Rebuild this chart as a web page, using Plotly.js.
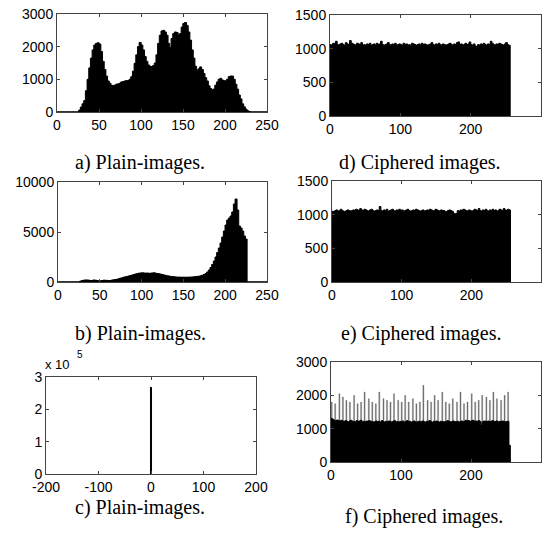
<!DOCTYPE html>
<html><head><meta charset="utf-8">
<script src="https://cdn.plot.ly/plotly-3.0.1.min.js"></script>
<style>html,body{margin:0;padding:0;background:#fff;}#chart{width:551px;height:533px;}</style>
</head><body><div id="chart"></div>
<script>
// ---------- DATA ----------
// Plain-image histograms: bin width 2 (bin starts 0,2,...,254)
const binStep = 2;
const plainA = [
 0,0,0,0,0,0,0,0,0,0,0,0,0,60,150,250,
 350,650,1000,1350,1650,1900,2050,2100,2120,2080,1850,1550,1300,1100,950,880,
 820,800,820,850,860,880,920,930,950,960,960,1000,1080,1250,1490,1750,
 2000,2130,2050,1900,1700,1550,1440,1400,1390,1420,1500,1750,2100,2350,2480,2500,
 2450,2350,2100,1980,2250,2400,2450,2430,2350,2400,2600,2710,2740,2650,2450,2200,
 1900,1650,1400,1280,1320,1380,1300,1180,1050,950,800,720,680,700,820,920,
 1000,1030,980,960,950,1000,1080,1100,1100,1000,850,700,520,400,250,160,
 90,40,10,0,0,0,0,0,0,0,0,0,0,0,0,0
];
const plainB = [
 0,0,0,0,0,0,0,0,0,0,0,0,0,80,150,180,
 200,200,180,150,160,200,180,150,120,120,150,180,170,160,140,150,
 200,220,250,280,320,380,420,480,520,560,600,650,700,750,800,840,
 880,900,920,900,880,900,860,880,900,920,880,850,820,780,740,700,
 660,620,590,560,540,520,500,490,480,480,470,480,470,480,480,490,
 500,520,540,560,580,620,680,750,850,1000,1200,1450,1750,2100,2500,2950,
 3400,3900,4500,5100,5700,6200,6400,6600,7000,7800,8300,7200,5600,5400,5100,4600,
 4300,0,0,0,0,0,0,0,0,0,0,0,0,0,0,0
];
// Ciphered-image histograms: bin width 2 (bin starts 0,2,...,254)
const cipherD = [
 1060,1050,1080,1070,1110,1060,1050,1070,1080,1060,1050,1090,1070,1060,1120,1080,
 1070,1060,1050,1080,1070,1060,1090,1050,1060,1040,1070,1060,1080,1050,1060,1070,
 1050,1080,1060,1070,1110,1060,1040,1060,1070,1090,1060,1050,1070,1060,1080,1050,
 1060,1070,1060,1050,1080,1060,1070,1050,1060,1040,1080,1070,1060,1050,1060,1070,
 1050,1080,1060,1070,1060,1050,1060,1070,1090,1060,1050,1070,1060,1080,1060,1050,
 1070,1060,1040,1060,1070,1080,1060,1050,1070,1060,1090,1100,1060,1070,1050,1060,
 1080,1060,1070,1100,1060,1050,1070,1040,1030,1060,1050,1070,1060,1080,1060,1050,
 1070,1060,1110,1080,1060,1050,1070,1060,1080,1070,1060,1050,1070,1090,1060,1050
];
const cipherE = [
 1050,1040,1060,1070,1050,1060,1080,1060,1050,1040,1060,1070,1060,1050,1060,1070,
 1060,1080,1070,1060,1090,1070,1060,1080,1070,1060,1050,1070,1080,1060,1050,1060,
 1070,1060,1120,1060,1050,1070,1060,1080,1050,1060,1070,1080,1060,1050,1070,1060,
 1080,1060,1070,1050,1060,1070,1080,1060,1050,1060,1070,1060,1080,1070,1060,1050,
 1060,1070,1050,1060,1070,1060,1080,1070,1050,1060,1080,1070,1060,1050,1070,1060,
 1060,1040,1050,1060,1070,1060,1050,1020,1010,1020,1060,1050,1070,1060,1080,1070,
 1060,1050,1070,1060,1050,1060,1080,1070,1060,1090,1060,1050,1070,1060,1080,1060,
 1050,1070,1060,1080,1060,1070,1050,1060,1080,1070,1060,1090,1070,1060,1080,1070
];
const cipherFBase = [
 1300,1280,1250,1230,1260,1240,1220,1250,1230,1210,1240,1220,1200,1230,1250,1210,
 1220,1200,1240,1210,1230,1250,1200,1220,1190,1230,1210,1240,1200,1220,1180,1210,
 1230,1200,1220,1190,1240,1210,1180,1220,1200,1230,1210,1190,1220,1240,1200,1210,
 1180,1220,1200,1230,1190,1210,1240,1200,1220,1180,1210,1230,1200,1190,1220,1210,
 1200,1230,1210,1190,1220,1200,1240,1210,1180,1220,1200,1230,1210,1190,1220,1200,
 1210,1180,1220,1240,1200,1210,1190,1230,1210,1200,1220,1190,1210,1230,1200,1220,
 1250,1230,1240,1220,1230,1250,1220,1230,1210,1240,1220,1100,1200,1230,1220,1210,
 1230,1200,1220,1240,1210,1220,1230,1200,1220,1210,1230,1220,1200,1210,1220,500
];
const cipherFSpikeX = [1,6,12,17,22,27,33,38,43,48,54,59,64,69,75,80,85,90,96,101,106,111,117,122,127,132,138,143,148,153,159,164,169,174,180,185,190,195,201,206,211,216,222,227,232,237,243,248,253];
const cipherFSpikeY = [1800,1750,2050,1950,1850,1800,2000,1750,1800,2100,1900,1800,1750,2100,1900,1850,1800,2050,1850,1800,2000,1800,1900,1750,1800,2300,1850,1800,2000,1850,2100,1800,1750,1900,1800,2100,1750,1800,2050,1800,1850,2000,1950,1850,2100,1900,1850,2000,2100];
// Difference histogram (plain images): all mass at 0
const diffX = [0];
const diffY = [268000];
// Tick labels
const diffXTicks = [-200, -100, 0, 100, 200];
const diffXTickText = ['-200', '-100', '0', '100', '200'];
const diffYTicks = [0, 100000, 200000, 300000];
const diffYTickText = ['0', '1', '2', '3'];
// Captions
const captions = ['a) Plain-images.','b) Plain-images.','c) Plain-images.','d) Ciphered images.','e) Ciphered images.','f) Ciphered images.'];

// ---------- LAYOUT ----------
const W = 551, H = 533;
const fx = v => v / W, fy = v => 1 - v / H;
function centers(arr){ return arr.map((_, i) => i * binStep + binStep / 2); }
const drawWidth = binStep * 1.2; // slight overlap so adjacent bins merge without seams

const tickFont = {family: 'Liberation Sans, Arial, sans-serif', size: 14, color: '#000'};
const common = {
  showline: true, mirror: 'ticks', linecolor: '#444', linewidth: 1,
  ticks: 'inside', ticklen: 3, tickcolor: '#444', tickwidth: 1,
  showgrid: false, zeroline: false, tickfont: tickFont, fixedrange: true,
  tickformat: 'd', tick0: 0
};
function ax(x0, x1, range, dtick, anchor, extra){
  return Object.assign({}, common, {domain: [fx(x0), fx(x1)], range: range, dtick: dtick, anchor: anchor}, extra || {});
}
function ay(y0, y1, range, dtick, anchor, extra){
  return Object.assign({}, common, {domain: [fy(y1), fy(y0)], range: range, dtick: dtick, anchor: anchor}, extra || {});
}

const blackMarker = {color: '#000', line: {color: '#000', width: 1}};
const barBase = {type: 'bar', marker: blackMarker, hoverinfo: 'skip', showlegend: false};
const traces = [
  Object.assign({}, barBase, {x: centers(plainA), y: plainA, width: drawWidth, xaxis: 'x', yaxis: 'y'}),
  Object.assign({}, barBase, {x: centers(plainB), y: plainB, width: drawWidth, xaxis: 'x2', yaxis: 'y2'}),
  Object.assign({}, barBase, {x: diffX, y: diffY, width: 2, xaxis: 'x3', yaxis: 'y3'}),
  Object.assign({}, barBase, {x: centers(cipherD), y: cipherD, width: drawWidth, xaxis: 'x4', yaxis: 'y4'}),
  Object.assign({}, barBase, {x: centers(cipherE), y: cipherE, width: drawWidth, xaxis: 'x5', yaxis: 'y5'}),
  Object.assign({}, barBase, {x: cipherFSpikeX, y: cipherFSpikeY, width: 1.6, xaxis: 'x6', yaxis: 'y6',
     marker: {color: '#6e6e6e', line: {color: '#6e6e6e', width: 0.3}}}),
  Object.assign({}, barBase, {x: centers(cipherFBase), y: cipherFBase, width: drawWidth, xaxis: 'x6', yaxis: 'y6'})
];

const capFont = {family: 'Liberation Serif, Times New Roman, serif', size: 20, color: '#000'};
function cap(text, x, y){
  return {text: text, x: fx(x), y: fy(y), xref: 'paper', yref: 'paper', showarrow: false,
          font: capFont, xanchor: 'center', yanchor: 'middle'};
}

const layout = {
  width: W, height: H, margin: {l: 0, r: 0, t: 0, b: 0},
  paper_bgcolor: '#fff', plot_bgcolor: '#fff', bargap: 0, barmode: 'overlay', showlegend: false,
  xaxis:  ax(57, 267, [0, 250], 50, 'y'),
  yaxis:  ay(14, 112, [0, 3000], 1000, 'x'),
  xaxis2: ax(58, 267, [0, 250], 50, 'y2'),
  yaxis2: ay(182, 282, [0, 10000], 5000, 'x2'),
  xaxis3: ax(46, 256, [-200, 200], 100, 'y3', {tickvals: diffXTicks, ticktext: diffXTickText}),
  yaxis3: ay(377, 474, [0, 300000], 100000, 'x3', {tickvals: diffYTicks, ticktext: diffYTickText}),
  xaxis4: ax(330, 541, [0, 300], 100, 'y4'),
  yaxis4: ay(15, 116, [0, 1500], 500, 'x4'),
  xaxis5: ax(332, 541, [0, 300], 100, 'y5'),
  yaxis5: ay(181, 282, [0, 1500], 500, 'x5'),
  xaxis6: ax(331, 541, [0, 300], 100, 'y6'),
  yaxis6: ay(362, 462, [0, 3000], 1000, 'x6'),
  annotations: [
    cap(captions[0], 140, 163),
    cap(captions[1], 140, 333),
    cap(captions[2], 140, 507),
    cap(captions[3], 420, 163),
    cap(captions[4], 421, 333),
    cap(captions[5], 424, 516),
    {text: 'x 10', x: fx(43), y: fy(364), xref: 'paper', yref: 'paper', showarrow: false, xanchor: 'left', yanchor: 'middle',
     font: {family: 'Liberation Sans, Arial, sans-serif', size: 13, color: '#000'}},
    {text: '5', x: fx(75), y: fy(354), xref: 'paper', yref: 'paper', showarrow: false, xanchor: 'left', yanchor: 'middle',
     font: {family: 'Liberation Sans, Arial, sans-serif', size: 10, color: '#000'}}
  ]
};

Plotly.newPlot('chart', traces, layout, {staticPlot: true, displayModeBar: false});
</script>
</body></html>
